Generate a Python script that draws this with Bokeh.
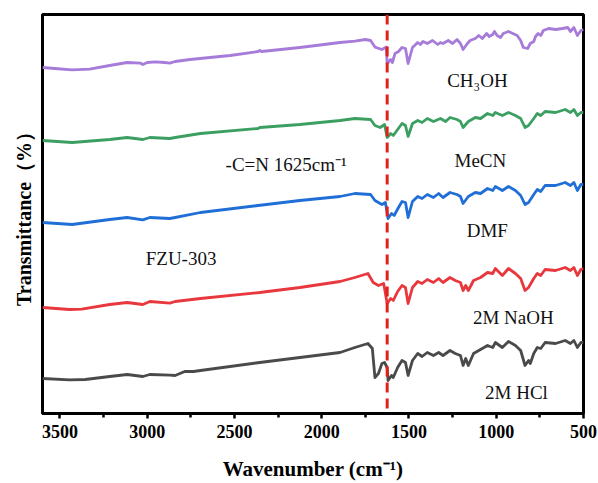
from bokeh.plotting import figure
from bokeh.models import Range1d, Span, FixedTicker
from bokeh.core.properties import value
from bokeh.embed import file_html
from bokeh.resources import INLINE

# ---- data (wavenumber cm-1, transmittance a.u. with vertical offsets) ----
wn_meoh = [3600, 3530, 3430, 3330, 3215, 3115, 3040, 3025, 3000, 2955, 2900, 2870, 2840, 2755, 2525,
           2365, 2355, 2345, 2125, 1895, 1810, 1750, 1720, 1695, 1655, 1630, 1625, 1605, 1595, 1580,
           1560, 1540, 1520, 1505, 1480, 1450, 1435, 1420, 1395, 1365, 1335, 1320, 1305, 1275, 1250,
           1225, 1205, 1190, 1165, 1150, 1120, 1100, 1080, 1055, 1040, 1020, 1010, 995, 975, 960,
           930, 905, 880, 860, 845, 820, 805, 785, 775, 760, 745, 730, 700, 660, 620, 590, 575, 555,
           535, 515, 500]
t_meoh = [86.5, 86.25, 85.9, 86.1, 87, 87.75, 87.6, 87.25, 87.75, 87.9, 87.75, 87.6, 88, 88.5, 89.5,
          90.5, 90.75, 90.5, 91.5, 92.75, 93.1, 93.5, 93.25, 91.6, 91, 91.6, 87.5, 88.5, 87.75, 90,
          90.5, 91.5, 91.25, 87.5, 91.5, 92.75, 92.25, 93, 92.5, 93.25, 92.25, 92.75, 92.5, 93.25, 92.5,
          93.5, 92.5, 91, 92.5, 93.25, 93.75, 94.5, 93.75, 95, 94.25, 94.75, 95.5, 94.5, 94, 95,
          95.5, 95, 94.5, 93.25, 91.5, 91.25, 92.5, 93, 94.25, 95, 94.5, 95.75, 96.25, 96, 96.25, 96.5, 95.5, 96.5,
          94.5, 95.75, 96]

wn_mecn = [3600, 3430, 3215, 3115, 3025, 2985, 2870, 2840, 2695, 2365, 2355, 2125, 1895, 1810, 1720,
           1695, 1665, 1640, 1625, 1605, 1590, 1565, 1540, 1520, 1505, 1480, 1450, 1425, 1395, 1360,
           1320, 1290, 1265, 1225, 1205, 1190, 1160, 1120, 1090, 1050, 1020, 1005, 965, 930, 890,
           860, 835, 815, 785, 765, 745, 720, 660, 605, 575, 555, 535, 515, 500]
t_mecn = [68.25, 67.75, 68.5, 69, 68.5, 69, 68.75, 69, 70, 71.25, 71.5, 72.25, 73.25, 73.75, 73.5,
          72, 71.5, 72.25, 69, 70, 69.5, 71, 72.5, 72, 69.25, 72.5, 73.25, 72.75, 73.75, 73,
          73.75, 73, 74, 73.5, 73, 71.5, 73, 74, 73.75, 75, 74.5, 75.25, 74.5, 75.25, 74.5,
          73.75, 71.5, 72, 73.75, 75, 74.5, 75.5, 75.25, 76, 75.25, 76, 74.5, 75.25, 75.25]

wn_dmf = [3600, 3430, 3215, 3115, 3025, 2985, 2870, 2840, 2695, 2365, 2125, 1895, 1810, 1720, 1695,
          1655, 1635, 1620, 1600, 1585, 1560, 1540, 1520, 1505, 1480, 1450, 1425, 1395, 1360, 1330,
          1305, 1265, 1225, 1205, 1190, 1160, 1120, 1090, 1050, 1020, 1005, 965, 930, 890, 860,
          835, 815, 785, 765, 745, 720, 660, 605, 575, 555, 535, 515, 500]
t_dmf = [47.75, 47.25, 48.5, 49, 48.4, 49, 48.75, 49, 50.25, 52, 53.25, 54.25, 55, 54.75, 53.25,
         52.25, 52.75, 48.75, 50, 49.5, 51.5, 53, 52.75, 49, 53, 54.25, 53.75, 54.75, 54, 55,
         54, 55.25, 54.75, 54.25, 52.5, 54.25, 55.25, 55, 56.25, 55.75, 56.75, 55.75, 56.75, 55.75, 54.5,
         52.25, 52.75, 54.75, 56, 55.5, 57, 57, 57.75, 57, 57.75, 55.75, 57.25, 57.25]

wn_naoh = [3600, 3445, 3375, 3215, 3115, 3025, 2985, 2870, 2840, 2695, 2355, 2125, 2010, 1895, 1810,
           1735, 1705, 1675, 1645, 1625, 1605, 1590, 1565, 1540, 1520, 1505, 1480, 1450, 1425, 1395,
           1360, 1330, 1305, 1265, 1235, 1205, 1190, 1175, 1160, 1130, 1090, 1050, 1020, 1005, 965,
           930, 890, 860, 835, 815, 785, 765, 745, 720, 660, 605, 575, 555, 535, 515, 500]
t_naoh = [26.5, 26, 26.1, 27.25, 27.75, 27.25, 28, 27.6, 28, 28.75, 30.25, 31.5, 32.25, 33, 34,
          35, 32.75, 32, 32.5, 27.5, 28.75, 28.25, 30.5, 32, 31.5, 27.5, 31.5, 33, 32.5, 33.5,
          32.75, 33.75, 32.75, 34, 33.25, 32.75, 30.75, 32, 30.75, 33.25, 34, 35.25, 35, 36.25, 34.5,
          36.25, 35, 33.75, 30.75, 31.5, 33.75, 35, 34.5, 36, 35.75, 36.5, 35.75, 36.5, 34.5, 36, 36.25]

wn_hcl = [3600, 3445, 3355, 3215, 3115, 3025, 2985, 2870, 2840, 2785, 2735, 2695, 2355, 2125, 1895,
          1810, 1735, 1710, 1695, 1675, 1655, 1640, 1625, 1620, 1600, 1590, 1565, 1540, 1520, 1505,
          1480, 1450, 1425, 1395, 1360, 1330, 1305, 1265, 1235, 1205, 1190, 1175, 1160, 1130, 1090,
          1050, 1020, 1005, 965, 930, 890, 860, 835, 815, 805, 785, 765, 745, 720, 660, 605, 575,
          555, 535, 515, 500]
t_hcl = [8.75, 8.4, 8.5, 9.25, 9.75, 9.25, 9.75, 9.6, 9.5, 10.5, 10.5, 10.75, 12.75, 14, 15.25,
         16.5, 17.5, 16.25, 9, 10, 12.5, 12.75, 11.5, 8.25, 9.5, 9, 11.5, 13.25, 12.75, 9.5,
         13.25, 15, 14.25, 15.25, 14.5, 15.25, 14.5, 15.75, 15, 14.5, 12, 13.75, 12, 15, 16,
         17, 16.5, 17.75, 16.5, 18, 17, 15.75, 12, 13.25, 12.5, 15, 16.5, 16.25, 17.75, 17.5, 18.25, 17.5,
         18.25, 16.5, 17.75, 17.75]

cn_band = 1625
x_ticks = [3500, 3000, 2500, 2000, 1500, 1000, 500]
x_minor_ticks = [3250, 2750, 2250, 1750, 1250, 750]

SERIF = "Liberation Serif"

p = figure(width=598, height=483, output_backend="svg", toolbar_location=None,
           x_range=Range1d(3600, 500), y_range=Range1d(0, 99.75),
           min_border_left=42, min_border_right=15, min_border_top=14, min_border_bottom=10)

p.grid.visible = False
p.background_fill_color = "white"
p.border_fill_color = "white"
p.outline_line_color = "black"
p.outline_line_width = 3
p.outline_line_alpha = 1

series = [
    (wn_meoh, t_meoh, "#a77bd9"),
    (wn_mecn, t_mecn, "#3c9f62"),
    (wn_dmf, t_dmf, "#1f6fd6"),
    (wn_naoh, t_naoh, "#e8383d"),
    (wn_hcl, t_hcl, "#4a4a4a"),
]
for xs, ys, c in series:
    p.line(xs, ys, line_color=c, line_width=2.8, line_join="round")

p.add_layout(Span(location=cn_band, dimension="height", line_color="#e3211c",
                  line_width=3, line_dash="10 6"))

labels = [
    ("CH₃OH", 1108, 83.25),
    ("MeCN", 1091, 63.25),
    ("DMF", 1051, 45.75),
    ("-C=N 1625cm⁻¹", 2204, 62.25),
    ("FZU-303", 2806, 38.75),
    ("2M NaOH", 902, 24),
    ("2M HCl", 884, 5.25),
]
p.text(x=[l[1] for l in labels], y=[l[2] for l in labels], text=[l[0] for l in labels],
       text_font=value(SERIF), text_font_size="19px", text_color="#111111",
       text_align="center", text_baseline="middle")

# x axis
xa = p.xaxis[0]
xa.ticker = FixedTicker(ticks=x_ticks, minor_ticks=x_minor_ticks)
xa.axis_line_width = 3
xa.axis_line_color = "black"
xa.major_tick_line_width = 2.5
xa.minor_tick_line_width = 2.5
xa.major_tick_in = 0
xa.major_tick_out = 5
xa.minor_tick_in = 0
xa.minor_tick_out = 4
xa.major_label_text_font = SERIF
xa.major_label_text_font_style = "bold"
xa.major_label_text_font_size = "18px"
xa.major_label_text_color = "black"
xa.major_label_standoff = 6
xa.axis_label = "Wavenumber (cm⁻¹)"
xa.axis_label_text_font = SERIF
xa.axis_label_text_font_style = "bold"
xa.axis_label_text_font_size = "21px"
xa.axis_label_text_color = "black"
xa.axis_label_standoff = 16

# y axis: title only, no ticks or tick labels
ya = p.yaxis[0]
ya.ticker = FixedTicker(ticks=[], minor_ticks=[])
ya.major_tick_line_color = None
ya.minor_tick_line_color = None
ya.axis_line_color = None
ya.major_label_standoff = 0
ya.axis_label = "Transmittance（%）"
ya.axis_label_text_font = SERIF
ya.axis_label_text_font_style = "bold"
ya.axis_label_text_font_size = "20px"
ya.axis_label_text_color = "black"
ya.axis_label_standoff = 8

open("out.html", "w").write(file_html(p, INLINE))
